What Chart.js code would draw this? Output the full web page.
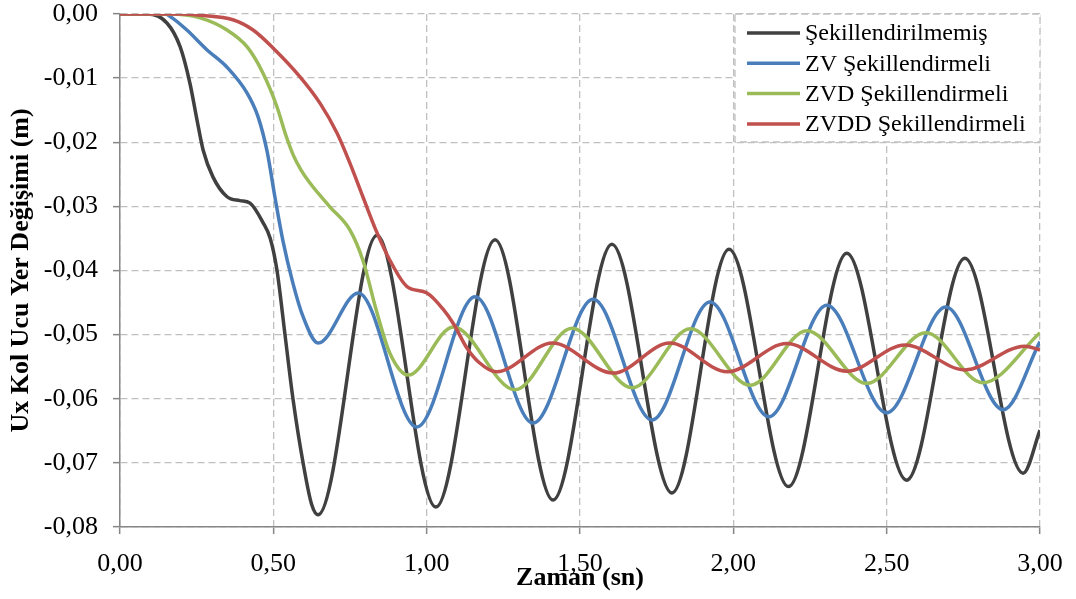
<!DOCTYPE html>
<html>
<head>
<meta charset="utf-8">
<script src="https://cdn.jsdelivr.net/npm/chart.js@4.4.0/dist/chart.umd.min.js"></script>
<style>
  body { margin: 0; background: #fff; }
  #chart { display: block; }
</style>
</head>
<body>
<canvas id="chart" width="1076" height="599"></canvas>
<script>
// Ux kol ucu yer degisimi - zaman
var xTicks = [0, 0.5, 1, 1.5, 2, 2.5, 3];
var yTicks = [0, -0.01, -0.02, -0.03, -0.04, -0.05, -0.06, -0.07, -0.08];

var seriesNames = ['Şekillendirilmemiş', 'ZV Şekillendirmeli', 'ZVD Şekillendirmeli', 'ZVDD Şekillendirmeli'];

// Sekillendirilmemis
var tBlack = [0, 0.088, 0.153, 0.196, 0.228, 0.251, 0.271, 0.303, 0.349, 0.391, 0.424, 0.466, 0.49, 0.512, 0.538, 0.564, 0.597, 0.625, 0.646, 0.838, 1.03, 1.223, 1.412, 1.604, 1.80, 1.986, 2.18, 2.37, 2.565, 2.755, 2.945, 3.0];
var yBlack = [0, 0, -0.0014, -0.0051, -0.0108, -0.0165, -0.0212, -0.0254, -0.0285, -0.0291, -0.0295, -0.0325, -0.035, -0.040, -0.050, -0.060, -0.070, -0.0765, -0.0781, -0.0345, -0.0769, -0.0352, -0.0758, -0.0359, -0.0747, -0.0367, -0.0737, -0.0373, -0.0727, -0.0381, -0.0716, -0.0649];

// ZV
var tBlue = [0, 0.147, 0.17, 0.218, 0.284, 0.349, 0.414, 0.45, 0.48, 0.505, 0.531, 0.564, 0.597, 0.646, 0.777, 0.968, 1.158, 1.347, 1.543, 1.735, 1.924, 2.116, 2.305, 2.50, 2.693, 2.88, 3.0];
var yBlue = [0, 0, -0.0006, -0.0025, -0.0056, -0.0083, -0.0123, -0.016, -0.0215, -0.0285, -0.0353, -0.042, -0.0472, -0.0513, -0.0435, -0.0644, -0.0441, -0.0638, -0.0445, -0.0633, -0.0449, -0.0628, -0.0454, -0.0622, -0.0457, -0.0617, -0.0511];

// ZVD
var tGreen = [0, 0.163, 0.261, 0.349, 0.414, 0.466, 0.512, 0.54, 0.565, 0.59, 0.620, 0.685, 0.750, 0.792, 0.838, 0.880, 0.94, 1.087, 1.288, 1.474, 1.67, 1.86, 2.055, 2.24, 2.435, 2.628, 2.814, 3.0];
var yGreen = [0, 0, -0.0006, -0.0025, -0.0051, -0.0092, -0.0145, -0.0188, -0.022, -0.0243, -0.0264, -0.0301, -0.0337, -0.0384, -0.0466, -0.0529, -0.0563, -0.0488, -0.0586, -0.049, -0.0583, -0.0491, -0.0579, -0.0494, -0.0576, -0.0497, -0.0575, -0.0497];

// ZVDD
var tRed = [0, 0.20, 0.261, 0.368, 0.434, 0.499, 0.587, 0.652, 0.708, 0.750, 0.792, 0.838, 0.880, 0.936, 1.001, 1.053, 1.09, 1.13, 1.17, 1.228, 1.41, 1.608, 1.793, 1.98, 2.174, 2.37, 2.56, 2.755, 2.95, 3.0];
var yRed = [0, 0, -0.0002, -0.0009, -0.0025, -0.0053, -0.0098, -0.0139, -0.0186, -0.0233, -0.0285, -0.0341, -0.0384, -0.0425, -0.0435, -0.046, -0.0485, -0.052, -0.0543, -0.0558, -0.0513, -0.056, -0.0513, -0.0558, -0.0514, -0.0557, -0.0516, -0.0555, -0.0518, -0.0524];

function pts(t, y) {
    return t.map(function (v, i) { return { x: v, y: y[i] }; });
}
function fmt(v) {
    return Number(v).toFixed(2).replace('.', ',');
}

Chart.defaults.font.family = 'Liberation Serif';
Chart.defaults.color = '#000';

// legend with dashed frame, top right of the plot
var legendBox = {
    id: 'legendBox',
    afterDatasetsDraw: function (chart) {
        var ctx = chart.ctx, ca = chart.chartArea;
        var w = 305, h = 128;
        var left = ca.right - w, top = ca.top;
        ctx.save();
        ctx.fillStyle = '#fff';
        ctx.fillRect(left, top, w, h);
        ctx.setLineDash([7, 4]);
        ctx.strokeStyle = '#c0c0c0';
        ctx.lineWidth = 1.3;
        ctx.strokeRect(left, top, w, h);
        ctx.setLineDash([]);
        ctx.font = '24px "Liberation Serif"';
        ctx.textBaseline = 'middle';
        ctx.textAlign = 'left';
        chart.data.datasets.forEach(function (ds, i) {
            var yy = top + 19 + i * 30.3;
            ctx.strokeStyle = ds.borderColor;
            ctx.lineWidth = 3.5;
            ctx.beginPath();
            ctx.moveTo(left + 12, yy);
            ctx.lineTo(left + 65, yy);
            ctx.stroke();
            ctx.fillStyle = '#000';
            ctx.fillText(ds.label, left + 70, yy + 1);
        });
        ctx.restore();
    }
};

var ctx = document.getElementById('chart').getContext('2d');
var grafik = new Chart(ctx, {
    type: 'line',
    data: {
        datasets: [{
            label: seriesNames[0],
            data: pts(tBlack, yBlack),
            borderColor: '#404040',
            order: 4
        }, {
            label: seriesNames[1],
            data: pts(tBlue, yBlue),
            borderColor: '#4a7ebb',
            order: 3
        }, {
            label: seriesNames[2],
            data: pts(tGreen, yGreen),
            borderColor: '#9bbb59',
            order: 2
        }, {
            label: seriesNames[3],
            data: pts(tRed, yRed),
            borderColor: '#c0504d',
            order: 1
        }]
    },
    options: {
        responsive: false,
        animation: false,
        devicePixelRatio: 1,
        layout: { padding: { left: 0, right: 36, top: 14, bottom: 0 } },
        elements: {
            point: { radius: 0 },
            line: { borderWidth: 3.5, cubicInterpolationMode: 'monotone', fill: false }
        },
        plugins: {
            legend: { display: false },
            tooltip: { enabled: false }
        },
        scales: {
            x: {
                type: 'linear',
                min: 0,
                max: 3,
                afterBuildTicks: function (s) { s.ticks = xTicks.map(function (v) { return { value: v }; }); },
                afterFit: function (s) { s.height = 72; s.paddingLeft = 0; s.paddingRight = 0; },
                ticks: {
                    callback: fmt,
                    font: { size: 26 },
                    padding: 15,
                    maxRotation: 0,
                    autoSkip: false
                },
                grid: { color: '#c0c0c0', lineWidth: 1.3, tickLength: 7, tickColor: '#868686', tickWidth: 1.5 },
                border: { display: true, color: '#868686', width: 1.5, dash: [7, 4] },
                title: {
                    display: true,
                    text: 'Zaman (sn)',
                    font: { size: 26, weight: 'bold' },
                    padding: { top: 0, bottom: 5 }
                }
            },
            y: {
                min: -0.08,
                max: 0,
                afterBuildTicks: function (s) { s.ticks = yTicks.map(function (v) { return { value: v }; }); },
                afterFit: function (s) { s.width = 120; s.paddingTop = 0; s.paddingBottom = 0; },
                ticks: {
                    callback: fmt,
                    font: { size: 26, lineHeight: 1 },
                    padding: 15,
                    autoSkip: false
                },
                grid: { color: '#c0c0c0', lineWidth: 1.3, tickLength: 7, tickColor: '#868686', tickWidth: 1.5 },
                border: { display: true, color: '#868686', width: 1.5, dash: [7, 4] },
                title: {
                    display: true,
                    text: 'Ux Kol Ucu Yer Değişimi (m)',
                    font: { size: 26, weight: 'bold' },
                    padding: { top: 6, bottom: 0 }
                }
            }
        }
    },
    plugins: [legendBox]
});
</script>
</body>
</html>
